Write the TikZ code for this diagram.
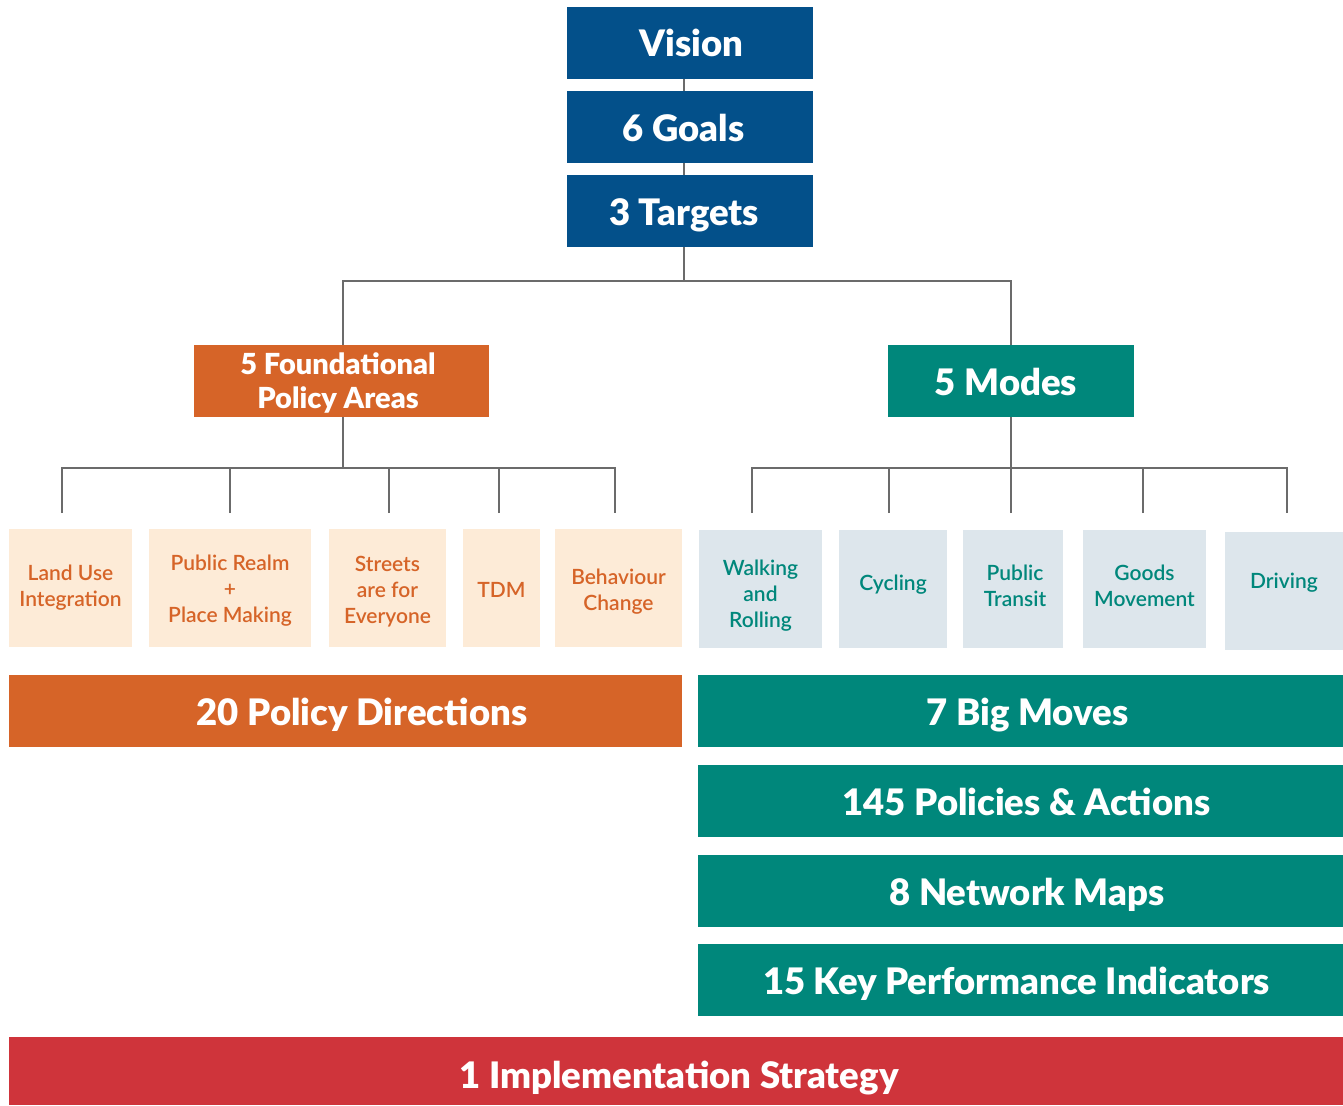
\documentclass[tikz,border=0pt]{standalone}
\usepackage{fontspec}
\setmainfont{Lato}
\newfontfamily\heavyfont{Lato Black}
\newfontfamily\semifont{Lato Semibold}
\definecolor{cblue}{HTML}{03508A}
\definecolor{corange}{HTML}{D66428}
\definecolor{cteal}{HTML}{00877B}
\definecolor{cred}{HTML}{CF343B}
\definecolor{lorange}{HTML}{FDEBD7}
\definecolor{lblue}{HTML}{DDE6EC}
\definecolor{cline}{HTML}{6B6B6B}
\tikzset{
  box/.style={inner sep=0pt, outer sep=0pt},
  bigbox/.style={box, minimum height=72pt},
  smallbox/.style={box, minimum height=118pt},
  bigtext/.style={inner sep=0pt, align=center, text=white, font=\heavyfont\fontsize{36.5}{40}\selectfont},
  foundtext/.style={inner sep=0pt, align=center, text=white, font=\heavyfont\fontsize{29}{34}\selectfont},
  ltext/.style={inner sep=0pt, align=center, text=corange, font=\semifont\fontsize{21}{26}\selectfont},
  rtext/.style={inner sep=0pt, align=center, text=cteal, font=\semifont\fontsize{21}{26}\selectfont},
  conn/.style={draw=cline, line width=2pt},
}
\begin{document}
\begin{tikzpicture}[x=1pt,y=-1pt]
\useasboundingbox (0,0) rectangle (1343,1105);
% ---------- boxes ----------
\node[bigbox, fill=cblue, minimum width=246pt] (vision) at (690,43) {};
\node[bigbox, fill=cblue, minimum width=246pt] (goals) at (690,127) {};
\node[bigbox, fill=cblue, minimum width=246pt] (targets) at (690,211) {};
\node[bigbox, fill=corange, minimum width=295pt] (found) at (341.5,381) {};
\node[bigbox, fill=cteal, minimum width=246pt] (modes) at (1011,381) {};
\node[smallbox, fill=lorange, minimum width=123pt] (landuse) at (70.5,588) {};
\node[smallbox, fill=lorange, minimum width=162pt] (realm) at (230,588) {};
\node[smallbox, fill=lorange, minimum width=117pt] (streets) at (387.5,588) {};
\node[smallbox, fill=lorange, minimum width=77pt] (tdm) at (501.5,588) {};
\node[smallbox, fill=lorange, minimum width=127pt] (behav) at (618.5,588) {};
\node[smallbox, fill=lblue, minimum width=123pt] (walk) at (760.5,589) {};
\node[smallbox, fill=lblue, minimum width=108pt] (cycle) at (893,589) {};
\node[smallbox, fill=lblue, minimum width=100pt] (transit) at (1013,589) {};
\node[smallbox, fill=lblue, minimum width=123pt] (goods) at (1144.5,589) {};
\node[smallbox, fill=lblue, minimum width=118pt] (drive) at (1284,591) {};
\node[bigbox, fill=corange, minimum width=673pt] (policy) at (345.5,711) {};
\node[bigbox, fill=cteal, minimum width=645pt] (moves) at (1020.5,711) {};
\node[bigbox, fill=cteal, minimum width=645pt] (actions) at (1020.5,801) {};
\node[bigbox, fill=cteal, minimum width=645pt] (maps) at (1020.5,891) {};
\node[bigbox, fill=cteal, minimum width=645pt] (kpi) at (1020.5,980) {};
\node[box, fill=cred, minimum width=1334pt, minimum height=68pt] (impl) at (676,1071) {};
% ---------- texts ----------
\node[bigtext, anchor=base] (vision-t) at ([xshift=1.5pt]vision.center |- 0,57) {Vision};
\node[bigtext, anchor=base] (goals-t) at ([xshift=-6.5pt]goals.center |- 0,141) {6 Goals};
\node[bigtext, anchor=base] (targets-t) at ([xshift=-6pt]targets.center |- 0,225) {3 Targets};
\node[foundtext] (found-t) at ([xshift=-3.5pt,yshift=-1.5pt]found.center) {5 Foundational\\Policy Areas};
\node[bigtext, anchor=base] (modes-t) at ([xshift=-5pt]modes.center |- 0,395) {5 Modes};
\node[ltext] (landuse-t) at (landuse.center) {Land Use\\Integration};
\node[ltext] (realm-t) at ([yshift=-3pt]realm.center) {Public Realm\\+\\Place Making};
\node[ltext] (streets-t) at ([yshift=-3.5pt]streets.center) {Streets\\are for\\Everyone};
\node[ltext] (tdm-t) at ([yshift=-2pt]tdm.center) {TDM};
\node[ltext] (behav-t) at ([yshift=-3.5pt]behav.center) {Behaviour\\Change};
\node[rtext] (walk-t) at ([yshift=-7pt]walk.center) {Walking\\and\\Rolling};
\node[rtext] (cycle-t) at ([yshift=4pt]cycle.center) {Cycling};
\node[rtext] (transit-t) at ([xshift=2pt,yshift=3pt]transit.center) {Public\\Transit};
\node[rtext] (goods-t) at ([yshift=3pt]goods.center) {Goods\\Movement};
\node[rtext] (drive-t) at ([yshift=8pt]drive.center) {Driving};
\node[bigtext, anchor=base] (policy-t) at ([xshift=16.5pt]policy.center |- 0,725) {20 Policy Directions};
\node[bigtext, anchor=base] (moves-t) at ([xshift=7pt]moves.center |- 0,725) {7 Big Moves};
\node[bigtext, anchor=base] (actions-t) at ([xshift=6pt]actions.center |- 0,815) {145 Policies \& Actions};
\node[bigtext, anchor=base] (maps-t) at ([xshift=6.5pt]maps.center |- 0,905) {8 Network Maps};
\node[bigtext, anchor=base] (kpi-t) at ([xshift=-4pt]kpi.center |- 0,994) {15 Key Performance Indicators};
\node[bigtext, anchor=base] (impl-t) at ([xshift=3pt]impl.center |- 0,1088) {1 Implementation Strategy};
% ---------- connectors ----------
\draw[conn] ([xshift=-6pt]vision.south) -- ([xshift=-6pt]goals.north);
\draw[conn] ([xshift=-6pt]goals.south) -- ([xshift=-6pt]targets.north);
\draw[conn] ([xshift=-6pt]targets.south) -- ++(0,34) coordinate (fork);
\draw[conn] ([xshift=1.5pt]found.north) |- (fork) -| (modes.north);
\draw[conn] ([xshift=1.5pt]found.south) -- ++(0,51) coordinate (lbus);
\draw[conn] ([xshift=-8.5pt,yshift=16pt]landuse.north) |- (lbus) -| ([xshift=-3.5pt,yshift=16pt]behav.north);
\draw[conn] ([yshift=16pt]realm.north) -- (realm.north |- lbus);
\draw[conn] ([xshift=1.5pt,yshift=16pt]streets.north) -- ([xshift=1.5pt]streets.north |- lbus);
\draw[conn] ([xshift=-2.5pt,yshift=16pt]tdm.north) -- ([xshift=-2.5pt]tdm.north |- lbus);
\draw[conn] (modes.south) -- ++(0,51) coordinate (rbus);
\draw[conn] ([xshift=-8.5pt,yshift=17pt]walk.north) |- (rbus) -| ([xshift=3pt,yshift=19pt]drive.north);
\draw[conn] ([xshift=-4pt,yshift=17pt]cycle.north) -- ([xshift=-4pt]cycle.north |- rbus);
\draw[conn] ([xshift=-2pt,yshift=17pt]transit.north) -- ([xshift=-2pt]transit.north |- rbus);
\draw[conn] ([xshift=-1.5pt,yshift=17pt]goods.north) -- ([xshift=-1.5pt]goods.north |- rbus);
\end{tikzpicture}
\end{document}
